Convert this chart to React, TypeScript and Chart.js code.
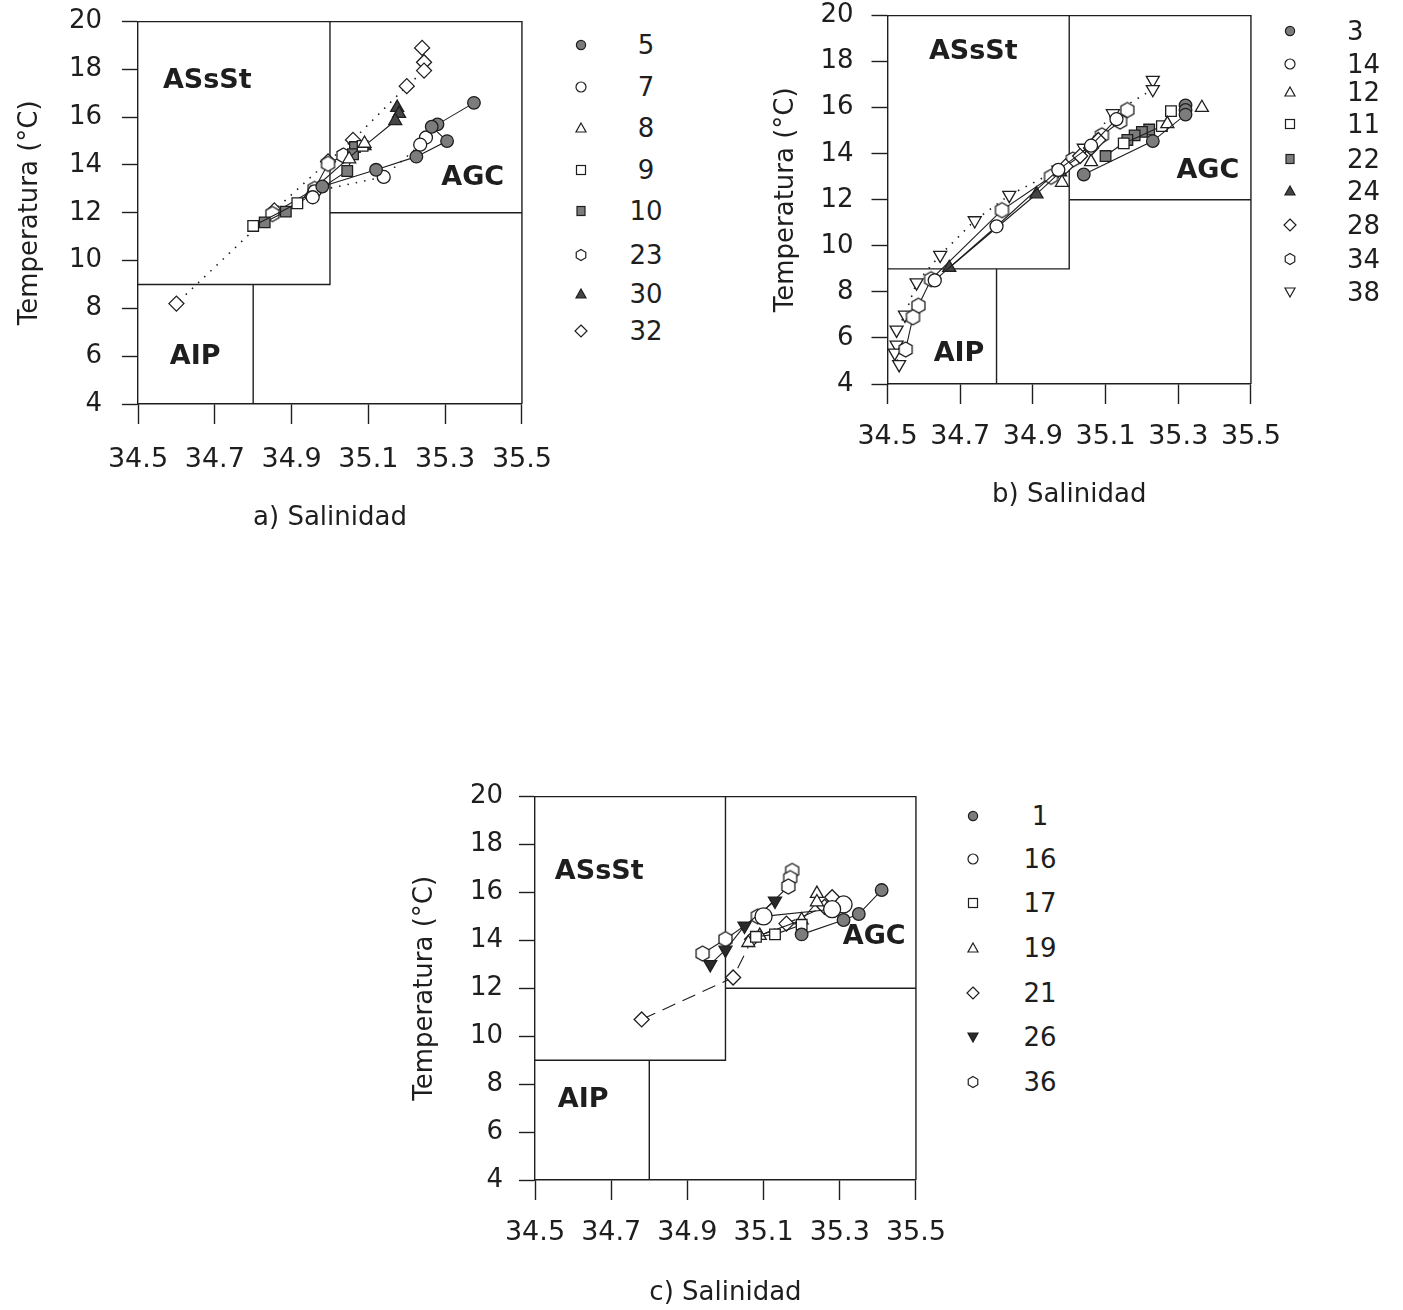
import React, { useEffect, useRef } from "react";
import { Chart, registerables } from "chart.js";
Chart.register(...registerables);

type P = [number, number];

// ---------- axis ticks ----------
const salinityTicks = [34.5, 34.7, 34.9, 35.1, 35.3, 35.5];
const temperatureTicks = [4, 6, 8, 10, 12, 14, 16, 18, 20];

// ---------- water-mass boundaries (salinity, temperature) ----------
const boundASsSt: P[] = [[35.0, 20], [35.0, 9], [34.5, 9]];
const boundAIP: P[] = [[34.8, 9], [34.8, 4]];
const boundAGC: P[] = [[35.0, 12], [35.5, 12]];
const frameTopRight: P[] = [[34.5, 20], [35.5, 20], [35.5, 4]];

// ---------- panel a ----------
const a5: P[] = [[35.375, 16.6], [35.28, 15.7], [35.265, 15.6], [35.305, 15.0], [35.225, 14.35], [35.12, 13.8], [34.98, 13.1]];
const a7: P[] = [[35.25, 15.15], [35.235, 14.85], [35.14, 13.5], [34.96, 12.9], [34.955, 12.65]];
const a8: P[] = [[35.09, 14.9], [35.05, 14.25], [34.95, 12.8]];
const a9: P[] = [[35.085, 14.8], [34.915, 12.4], [34.8, 11.45]];
const a10: P[] = [[35.065, 14.75], [35.06, 14.45], [35.045, 13.75], [34.885, 12.05], [34.83, 11.6]];
const a23: P[] = [[35.035, 14.4], [34.995, 14.05], [34.96, 13.0], [34.85, 11.95]];
const a30: P[] = [[35.175, 16.4], [35.18, 16.15], [35.17, 15.85], [35.09, 14.8]];
const a32: P[] = [[35.24, 18.9], [35.245, 18.3], [35.245, 17.95], [35.2, 17.3], [35.06, 15.05], [34.995, 14.15], [34.855, 12.1], [34.6, 8.2]];

// ---------- panel b ----------
const b3: P[] = [[35.32, 16.1], [35.32, 15.9], [35.32, 15.7], [35.23, 14.55], [35.04, 13.1]];
const b14: P[] = [[35.13, 15.5], [35.06, 14.35], [34.97, 13.3], [34.8, 10.85], [34.63, 8.5]];
const b12: P[] = [[35.365, 16.0], [35.27, 15.3], [35.06, 13.65], [34.98, 12.75]];
const b11: P[] = [[35.28, 15.85], [35.255, 15.2], [35.15, 14.45]];
const b22: P[] = [[35.22, 15.05], [35.2, 14.95], [35.18, 14.8], [35.16, 14.6], [35.1, 13.9]];
const b24: P[] = [[34.975, 13.2], [34.91, 12.25], [34.67, 9.05]];
const b28: P[] = [[35.08, 14.6], [35.06, 14.25], [35.03, 13.9], [34.99, 13.45]];
const b34: P[] = [[35.16, 15.9], [35.14, 15.4], [35.09, 14.8], [35.01, 13.75], [34.95, 13.0], [34.815, 11.55], [34.62, 8.55], [34.585, 7.4], [34.57, 6.9], [34.55, 5.5]];
const b38: P[] = [[35.23, 17.2], [35.23, 16.8], [35.12, 15.75], [35.04, 14.25], [34.97, 13.3], [34.835, 12.2], [34.74, 11.1], [34.645, 9.6], [34.58, 8.4], [34.548, 7.0], [34.525, 6.35], [34.525, 5.7], [34.52, 5.35], [34.532, 4.85]];

// ---------- panel c ----------
const c1: P[] = [[35.41, 16.1], [35.35, 15.1], [35.31, 14.85], [35.2, 14.25]];
const c16: P[] = [[35.31, 15.5], [35.28, 15.3], [35.1, 15.0]];
const c17: P[] = [[35.2, 14.65], [35.13, 14.25], [35.08, 14.15]];
const c19: P[] = [[35.24, 15.95], [35.24, 15.6], [35.2, 14.85], [35.09, 14.2], [35.06, 13.9]];
const c21: P[] = [[35.28, 15.8], [35.26, 15.4], [35.16, 14.7], [35.07, 14.05], [35.02, 12.45], [34.78, 10.7]];
const c26: P[] = [[35.13, 15.65], [35.05, 14.6], [35.0, 13.6], [34.96, 13.0]];
const c36: P[] = [[35.175, 16.9], [35.17, 16.6], [35.165, 16.25], [35.085, 15.0], [35.0, 14.05], [34.94, 13.45]];

// ---------- styling ----------
type Marker = "circle" | "circleFill" | "triangle" | "triangleFill" | "triangleDown" | "triangleDownFill" | "square" | "squareFill" | "diamond" | "hexagon";
type LineKind = "none" | "solid" | "dotted" | "dashed";
interface Series { label: string; data: P[]; marker: Marker; line: LineKind; r?: number }

const INK = "#1e1e1e";
const GREY = "#7c7c7c";
const DARK = "#454545";
const FONT = "'DejaVu Sans', 'Liberation Sans', sans-serif";

interface PanelCfg {
  title: string;
  series: Series[];
  regions: { text: string; x: number; y: number }[];
  canvas: { left: number; top: number; width: number; height: number };
  yWidth: number; xHeight: number;
  yTitlePad: number; yTickPad: number; xTickPad: number;
  legend: { mx: number; tx: number; align: "center" | "left"; ys: number[] };
}

const panels: PanelCfg[] = [
  {
    title: "a) Salinidad",
    series: [
      { label: "5", data: a5, marker: "circleFill", line: "solid" },
      { label: "7", data: a7, marker: "circle", line: "dotted" },
      { label: "8", data: a8, marker: "triangle", line: "none" },
      { label: "9", data: a9, marker: "square", line: "solid" },
      { label: "10", data: a10, marker: "squareFill", line: "solid" },
      { label: "23", data: a23, marker: "hexagon", line: "solid" },
      { label: "30", data: a30, marker: "triangleFill", line: "solid" },
      { label: "32", data: a32, marker: "diamond", line: "dotted" },
    ],
    regions: [
      { text: "ASsSt", x: 34.565, y: 17.5 },
      { text: "AGC", x: 35.29, y: 13.47 },
      { text: "AIP", x: 34.583, y: 5.97 },
    ],
    canvas: { left: 0, top: -14, width: 572, height: 545 },
    yWidth: 138, xHeight: 127,
    yTitlePad: 17, yTickPad: 20, xTickPad: 20,
    legend: { mx: 581, tx: 646, align: "center", ys: [45, 87, 128, 170, 211, 255, 294, 331] },
  },
  {
    title: "b) Salinidad",
    series: [
      { label: "3", data: b3, marker: "circleFill", line: "solid" },
      { label: "14", data: b14, marker: "circle", line: "solid" },
      { label: "12", data: b12, marker: "triangle", line: "none" },
      { label: "11", data: b11, marker: "square", line: "solid" },
      { label: "22", data: b22, marker: "squareFill", line: "solid" },
      { label: "24", data: b24, marker: "triangleFill", line: "solid" },
      { label: "28", data: b28, marker: "diamond", line: "solid" },
      { label: "34", data: b34, marker: "hexagon", line: "solid" },
      { label: "38", data: b38, marker: "triangleDown", line: "dotted" },
    ],
    regions: [
      { text: "ASsSt", x: 34.614, y: 18.42 },
      { text: "AGC", x: 35.295, y: 13.26 },
      { text: "AIP", x: 34.627, y: 5.32 },
    ],
    canvas: { left: 760, top: -18, width: 538, height: 526 },
    yWidth: 127.5, xHeight: 124,
    yTitlePad: 13, yTickPad: 18, xTickPad: 17,
    legend: { mx: 1290, tx: 1347, align: "left", ys: [31, 64, 92, 124, 159, 191, 225, 259, 292] },
  },
  {
    title: "c) Salinidad",
    series: [
      { label: "1", data: c1, marker: "circleFill", line: "solid" },
      { label: "16", data: c16, marker: "circle", line: "solid", r: 8.5 },
      { label: "17", data: c17, marker: "square", line: "solid" },
      { label: "19", data: c19, marker: "triangle", line: "solid" },
      { label: "21", data: c21, marker: "diamond", line: "dashed" },
      { label: "26", data: c26, marker: "triangleDownFill", line: "solid" },
      { label: "36", data: c36, marker: "hexagon", line: "solid" },
    ],
    regions: [
      { text: "ASsSt", x: 34.552, y: 16.87 },
      { text: "AGC", x: 35.308, y: 14.15 },
      { text: "AIP", x: 34.56, y: 7.34 },
    ],
    canvas: { left: 400, top: 765, width: 563, height: 541 },
    yWidth: 135, xHeight: 126,
    yTitlePad: 12, yTickPad: 16, xTickPad: 17,
    legend: { mx: 973, tx: 1040, align: "center", ys: [816, 859, 903, 948, 993, 1037, 1082] },
  },
];

function hexImage(r: number): HTMLCanvasElement {
  const size = Math.ceil(r * 2 + 4);
  const c = document.createElement("canvas");
  c.width = size;
  c.height = size;
  const ctx = c.getContext("2d")!;
  const cx = size / 2;
  ctx.beginPath();
  for (let i = 0; i < 6; i++) {
    const a = -Math.PI / 2 + (i * Math.PI) / 3;
    const px = cx + r * Math.cos(a);
    const py = cx + r * Math.sin(a);
    if (i === 0) ctx.moveTo(px, py);
    else ctx.lineTo(px, py);
  }
  ctx.closePath();
  ctx.fillStyle = "#fff";
  ctx.fill();
  ctx.lineWidth = 1.3;
  ctx.strokeStyle = INK;
  ctx.stroke();
  return c;
}

function pointProps(m: Marker, r?: number) {
  const open = "#ffffff";
  switch (m) {
    case "circle": return { pointStyle: "circle", pointRadius: r ?? 6.5, pointBackgroundColor: open, pointRotation: 0 };
    case "circleFill": return { pointStyle: "circle", pointRadius: r ?? 6.3, pointBackgroundColor: GREY, pointRotation: 0 };
    case "triangle": return { pointStyle: "triangle", pointRadius: r ?? 7.5, pointBackgroundColor: open, pointRotation: 0 };
    case "triangleFill": return { pointStyle: "triangle", pointRadius: r ?? 7.5, pointBackgroundColor: DARK, pointRotation: 0 };
    case "triangleDown": return { pointStyle: "triangle", pointRadius: r ?? 7.5, pointBackgroundColor: open, pointRotation: 180 };
    case "triangleDownFill": return { pointStyle: "triangle", pointRadius: r ?? 7.5, pointBackgroundColor: "#2a2a2a", pointRotation: 180 };
    case "square": return { pointStyle: "rect", pointRadius: r ?? 7.5, pointBackgroundColor: open, pointRotation: 0 };
    case "squareFill": return { pointStyle: "rect", pointRadius: r ?? 7.5, pointBackgroundColor: GREY, pointRotation: 0 };
    case "diamond": return { pointStyle: "rectRot", pointRadius: r ?? 7.5, pointBackgroundColor: open, pointRotation: 0 };
    case "hexagon": return { pointStyle: hexImage(r ?? 7.5), pointRadius: r ?? 7.5, pointBackgroundColor: open, pointRotation: 0 };
  }
}

const toXY = (d: P[]) => d.map(([x, y]) => ({ x, y }));

const regionLabelPlugin = {
  id: "regionLabels",
  afterDatasetsDraw(chart: any, _args: any, opts: any) {
    const { ctx, scales } = chart;
    ctx.save();
    ctx.font = `bold 27px ${FONT}`;
    ctx.fillStyle = INK;
    ctx.textAlign = "left";
    ctx.textBaseline = "middle";
    for (const l of opts.items || []) {
      ctx.fillText(l.text, scales.x.getPixelForValue(l.x), scales.y.getPixelForValue(l.y));
    }
    ctx.restore();
  },
};

function PanelChart({ cfg }: { cfg: PanelCfg }) {
  const ref = useRef<HTMLCanvasElement>(null);
  useEffect(() => {
    const seriesSets = cfg.series.map((s) => ({
      label: s.label,
      data: toXY(s.data),
      showLine: s.line !== "none",
      borderColor: INK,
      borderWidth: s.line === "dotted" ? 1.6 : 1.1,
      borderDash: s.line === "dotted" ? [1.5, 7] : s.line === "dashed" ? [14, 8] : [],
      pointBorderColor: INK,
      pointBorderWidth: 1.3,
      ...pointProps(s.marker, s.r),
    }));
    const boundSets = [boundASsSt, boundAIP, boundAGC, frameTopRight].map((b) => ({
      label: "_bound",
      data: toXY(b),
      showLine: true,
      borderColor: INK,
      borderWidth: 1.4,
      pointRadius: 0,
      clip: 4,
    }));
    const chart = new Chart(ref.current!, {
      type: "scatter",
      data: { datasets: [...seriesSets, ...boundSets] as any },
      plugins: [regionLabelPlugin as any],
      options: {
        animation: false,
        responsive: false,
        devicePixelRatio: 1,
        layout: { padding: 0 },
        plugins: {
          legend: { display: false },
          tooltip: { enabled: false },
          regionLabels: { items: cfg.regions },
        } as any,
        scales: {
          x: {
            type: "linear",
            min: salinityTicks[0],
            max: salinityTicks[salinityTicks.length - 1],
            afterBuildTicks: (s: any) => { s.ticks = salinityTicks.map((v) => ({ value: v })); },
            ticks: {
              autoSkip: false,
              maxRotation: 0,
              padding: cfg.xTickPad,
              color: INK,
              font: { family: FONT, size: 27 },
              callback: (v: any) => Number(v).toFixed(1),
            },
            grid: { drawOnChartArea: false, drawTicks: true, tickLength: 20, tickWidth: 1.4, tickColor: INK },
            border: { display: true, color: INK, width: 1.4 },
            title: { display: true, text: cfg.title, color: INK, font: { family: FONT, size: 26, lineHeight: 1 }, padding: { top: 0, bottom: 0 } },
            afterFit: (s: any) => { s.height = cfg.xHeight; },
          },
          y: {
            type: "linear",
            min: temperatureTicks[0],
            max: temperatureTicks[temperatureTicks.length - 1],
            afterBuildTicks: (s: any) => { s.ticks = temperatureTicks.map((v) => ({ value: v })); },
            ticks: {
              autoSkip: false,
              padding: cfg.yTickPad,
              color: INK,
              font: { family: FONT, size: 26 },
              callback: (v: any) => String(v),
            },
            grid: { drawOnChartArea: false, drawTicks: true, tickLength: 16, tickWidth: 1.4, tickColor: INK },
            border: { display: true, color: INK, width: 1.4 },
            title: { display: true, text: "Temperatura (°C)", color: INK, font: { family: FONT, size: 26, lineHeight: 1 }, padding: { top: cfg.yTitlePad, bottom: 0 } },
            afterFit: (s: any) => { s.width = cfg.yWidth; },
          },
        },
      } as any,
    });
    return () => chart.destroy();
  }, [cfg]);
  const c = cfg.canvas;
  return (
    <canvas
      ref={ref}
      width={c.width}
      height={c.height}
      style={{ position: "absolute", left: c.left, top: c.top, width: c.width, height: c.height }}
    />
  );
}

function MarkerIcon({ m }: { m: Marker }) {
  const s = 16;
  const h = s / 2;
  const stroke = INK;
  const sw = 1.2;
  let el: React.ReactNode = null;
  switch (m) {
    case "circle": el = <circle cx={h} cy={h} r={5} fill="#fff" stroke={stroke} strokeWidth={sw} />; break;
    case "circleFill": el = <circle cx={h} cy={h} r={4.6} fill={GREY} stroke={stroke} strokeWidth={sw} />; break;
    case "triangle": el = <polygon points={`${h},${h - 5} ${h + 5},${h + 4} ${h - 5},${h + 4}`} fill="#fff" stroke={stroke} strokeWidth={sw} />; break;
    case "triangleFill": el = <polygon points={`${h},${h - 5} ${h + 5},${h + 4} ${h - 5},${h + 4}`} fill={DARK} stroke={stroke} strokeWidth={sw} />; break;
    case "triangleDown": el = <polygon points={`${h},${h + 5} ${h + 5},${h - 4} ${h - 5},${h - 4}`} fill="#fff" stroke={stroke} strokeWidth={sw} />; break;
    case "triangleDownFill": el = <polygon points={`${h},${h + 5} ${h + 5},${h - 4} ${h - 5},${h - 4}`} fill="#2a2a2a" stroke={stroke} strokeWidth={sw} />; break;
    case "square": el = <rect x={h - 4.5} y={h - 4.5} width={9} height={9} fill="#fff" stroke={stroke} strokeWidth={sw} />; break;
    case "squareFill": el = <rect x={h - 4} y={h - 4.5} width={8} height={9} fill={GREY} stroke={stroke} strokeWidth={sw} />; break;
    case "diamond": el = <polygon points={`${h},${h - 6} ${h + 6},${h} ${h},${h + 6} ${h - 6},${h}`} fill="#fff" stroke={stroke} strokeWidth={sw} />; break;
    case "hexagon": {
      const pts = Array.from({ length: 6 }, (_, i) => {
        const a = -Math.PI / 2 + (i * Math.PI) / 3;
        return `${h + 5.5 * Math.cos(a)},${h + 5.5 * Math.sin(a)}`;
      }).join(" ");
      el = <polygon points={pts} fill="#fff" stroke={stroke} strokeWidth={sw} />;
      break;
    }
  }
  return <svg width={s} height={s} style={{ display: "block" }}>{el}</svg>;
}

function Legend({ cfg }: { cfg: PanelCfg }) {
  const L = cfg.legend;
  return (
    <>
      {cfg.series.map((s, i) => (
        <React.Fragment key={s.label}>
          <div style={{ position: "absolute", left: L.mx - 8, top: L.ys[i] - 8 }}>
            <MarkerIcon m={s.marker} />
          </div>
          <div
            style={{
              position: "absolute",
              left: L.tx,
              top: L.ys[i],
              transform: L.align === "center" ? "translate(-50%, -50%)" : "translate(0, -50%)",
              fontFamily: FONT,
              fontSize: 26,
              lineHeight: 1,
              color: INK,
              whiteSpace: "nowrap",
            }}
          >
            {s.label}
          </div>
        </React.Fragment>
      ))}
    </>
  );
}

export default function App() {
  return (
    <div style={{ position: "absolute", left: 0, top: 0, width: 1403, height: 1306, background: "#fff", overflow: "hidden" }}>
      {panels.map((p) => (
        <React.Fragment key={p.title}>
          <PanelChart cfg={p} />
          <Legend cfg={p} />
        </React.Fragment>
      ))}
    </div>
  );
}
